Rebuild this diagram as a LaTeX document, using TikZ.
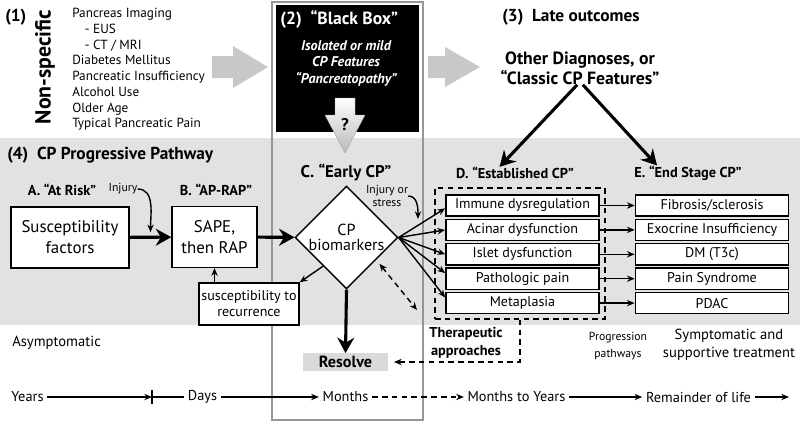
\documentclass[tikz,border=0pt]{standalone}
\usepackage{fontspec}
\setmainfont{PT Sans}
\usetikzlibrary{arrows.meta,positioning,shapes.geometric,calc}
\definecolor{bandgray}{RGB}{226,226,226}
\definecolor{fatgray}{RGB}{200,200,200}
\definecolor{framegray}{RGB}{150,150,150}
\definecolor{resgray}{RGB}{218,218,218}

\begin{document}
\begin{tikzpicture}[x=0.025cm, y=-0.025cm,
  >={Stealth[length=5.5pt, width=4.5pt]},
  cpbox/.style={draw, line width=1pt, fill=white, align=center, inner sep=1pt},
  estbox/.style={cpbox, minimum width=3.83cm, minimum height=0.53cm, font=\fontsize{10}{11}\selectfont},
  bigbox/.style={cpbox, minimum height=1.52cm, font=\fontsize{12}{15}\selectfont},
  hdtxt/.style={font=\bfseries\fontsize{12.3}{14}\selectfont, inner sep=0pt},
  stagetxt/.style={font=\bfseries\fontsize{10.2}{12}\selectfont, inner sep=0pt},
  notetxt/.style={font=\fontsize{10.4}{12.5}\selectfont, align=center, inner sep=0pt},
  smalltxt/.style={font=\fontsize{8.3}{9.3}\selectfont, align=center, inner sep=0pt},
  tltxt/.style={font=\fontsize{10.2}{12}\selectfont, inner sep=2.5pt},
  fatarr/.style={line width=2.2pt, -{Stealth[length=11pt, width=12pt]}},
  thinarr/.style={line width=1pt, ->},
  tlarr/.style={line width=0.9pt, ->},
  dashline/.style={line width=1pt, dash pattern=on 4pt off 3pt}
]
\useasboundingbox (0,0) rectangle (800,423);

% bands and frame
\fill[bandgray] (0,138) rectangle (800,325);
\draw[framegray, line width=0.8pt] (272,2) rectangle (423,420);

% (1) non-specific
\node[hdtxt, anchor=west] (n1) at (5,17) {(1)};
\node[rotate=90, font=\bfseries\fontsize{15.5}{17}\selectfont, inner sep=0pt] (nonspec) at (45,67) {Non-specific};
\node[anchor=west, align=left, font=\fontsize{9.4}{11.2}\selectfont, inner sep=0pt] (list) at (72,69.5)
  {Pancreas Imaging\\\hspace{9pt}- EUS\\\hspace{9pt}- CT / MRI\\Diabetes Mellitus\\Pancreatic Insufficiency\\Alcohol Use\\Older Age\\Typical Pancreatic Pain};
\fill[fatgray] (212,56) -- (233,56) -- (233,46) -- (268,67) -- (233,88) -- (233,78) -- (212,78) -- cycle;

% (2) black box
\node[fill=black, minimum width=3.575cm, minimum height=3.175cm, anchor=north west, inner sep=0pt] (bbox) at (276,5) {};
\node[hdtxt, text=white, anchor=west, font=\bfseries\fontsize{12.5}{14}\selectfont] (bbtitle) at (280,19) {(2)\enspace “Black Box”};
\node[text=white, align=center, inner sep=0pt, font=\bfseries\itshape\fontsize{10}{11.7}\selectfont] (bbtext) at (346,63) {Isolated or mild\\CP Features\\“Pancreatopathy”};
\shade[top color=white, bottom color=gray!55, draw=gray!70, line width=0.3pt]
  (335,98) -- (355,98) -- (355,115) -- (365,115) -- (345,153) -- (325,115) -- (335,115) -- cycle;
\node[font=\bfseries\fontsize{12}{14}\selectfont, inner sep=0pt] (qmark) at (345,125) {?};

% (3) late outcomes
\fill[fatgray] (428,56) -- (445,56) -- (445,47) -- (480,67) -- (445,87) -- (445,78) -- (428,78) -- cycle;
\node[hdtxt, anchor=west] (n3) at (502,17) {(3)\enspace Late outcomes};
\node[hdtxt, align=center, font=\bfseries\fontsize{12.6}{14.2}\selectfont] (late) at (580,68) {Other Diagnoses, or\\“Classic CP Features”};

% (4) progressive pathway
\node[hdtxt, anchor=west] (n4) at (7,155) {(4)\enspace CP Progressive Pathway};
\node[stagetxt] (alab) at (62,190) {A. “At Risk”};
\node[smalltxt] (inj) at (123,189) {Injury};
\node[stagetxt] (blab) at (216,190) {B. “AP-RAP”};
\node[stagetxt, font=\bfseries\fontsize{12}{14}\selectfont] (clab) at (346,172) {C. “Early CP”};
\node[smalltxt] (ios) at (387,196) {Injury or\\stress};
\node[stagetxt] (dlab) at (515,173) {D. “Established CP”};
\node[stagetxt] (elab) at (688,173) {E. “End Stage CP”};

\node[bigbox, minimum width=2.95cm] (sA) at (70,237.5) {Susceptibility\\factors};
\node[bigbox, minimum width=2.125cm] (sB) at (214.5,237) {SAPE,\\then RAP};
\node[cpbox, minimum width=2.5cm, minimum height=1.05cm, font=\fontsize{10}{11.3}\selectfont] (sus) at (249,304) {susceptibility to\\recurrence};
\node[draw, line width=1pt, fill=white, diamond, aspect=1, minimum width=2.35cm, minimum height=2.32cm, inner sep=0pt, align=center, font=\fontsize{11.4}{11}\selectfont] (dia) at (346.5,237.5) {CP\\biomarkers};
\node[fill=resgray, minimum width=2.125cm, minimum height=0.43cm, inner sep=0pt, font=\bfseries\fontsize{11.5}{13}\selectfont] (res) at (345.5,362) {Resolve};

\node[draw, dashline, minimum width=4.25cm, minimum height=3.275cm] (est) at (520,253.5) {};
\node[estbox] (l1) at (522.5,205.5) {Immune dysregulation};
\node[estbox] (l2) at (522.5,229.9) {Acinar dysfunction};
\node[estbox] (l3) at (522.5,254.3) {Islet dysfunction};
\node[estbox] (l4) at (522.5,278.7) {Pathologic pain};
\node[estbox] (l5) at (522.5,303.1) {Metaplasia};
\node[estbox] (r1) at (712,205.5) {Fibrosis/sclerosis};
\node[estbox] (r2) at (712,229.9) {Exocrine Insufficiency};
\node[estbox] (r3) at (712,254.3) {DM (T3c)};
\node[estbox] (r4) at (712,278.7) {Pain Syndrome};
\node[estbox] (r5) at (712,303.1) {PDAC};
\coordinate (iostip) at (418,219);
\coordinate (thx) at (417,310);

% bottom notes
\node[notetxt, anchor=west] (asym) at (12,343) {Asymptomatic};
\node[notetxt, font=\bfseries\fontsize{10.2}{12.5}\selectfont] (thera) at (466,343) {Therapeutic\\approaches};
\node[smalltxt, font=\fontsize{8.3}{11.5}\selectfont] (prog) at (618,346) {Progression\\pathways};
\node[notetxt] (symp) at (729,345) {Symptomatic and\\supportive treatment};

% connectors
\draw[fatarr] (sA) -- (sB);
\draw[fatarr] (sB) -- (dia);
\draw[fatarr] (dia.south) -- (res.north);
\draw[fatarr] ([xshift=-2pt]late.south) -- ([xshift=-11pt]dlab.north);
\draw[fatarr] ([xshift=2pt]late.south) -- ([xshift=-22pt]elab.north);
\draw[thinarr] (inj.east) to[out=0, in=90] ($(sA.east)!0.5!(sB.west)+(0,-5)$);
\draw[thinarr] (ios.east) to[out=0, in=90] (iostip);
\draw[thinarr] (sus.north -| sB.south) -- (sB.south);
\draw[thinarr] ($(dia.south)!0.45!(dia.west)$) -- (sus.north east);
\draw[thinarr] (dia.east) -- ([yshift=-2pt]l1.west);
\draw[thinarr] (dia.east) -- (l2.west);
\draw[thinarr] (dia.east) -- (l3.west);
\draw[thinarr] (dia.east) -- ([yshift=4pt]l4.west);
\draw[thinarr] (dia.east) -- ([yshift=4pt]l5.west);
\draw[thinarr] (l1) -- (r1);
\draw[thinarr] (l2) -- (r2);
\draw[thinarr] (l3) -- (r3);
\draw[thinarr] (l4) -- (r4);
\draw[thinarr] (l5) -- (r5);
\draw[thinarr, dashline, <->] ([xshift=3pt,yshift=-2pt]$(dia.east)!0.45!(dia.south)$) -- (thx);
\draw[thinarr, dashline] (est.south) |- ([xshift=4pt]res.east);

% timeline
\node[tltxt] (tyears) at (27.5,397) {Years};
\coordinate (tick) at (152,397);
\node[tltxt] (tdays) at (202.5,397) {Days};
\node[tltxt] (tmonths) at (345.5,397) {Months};
\node[tltxt] (tmy) at (516.5,397) {Months to Years};
\node[tltxt] (trem) at (698.5,397) {Remainder of life};
\coordinate (tend) at (789,397);
\draw[tlarr] (tyears) -- (tick);
\draw[line width=0.9pt] (tick) ++(0,-7) -- ++(0,14);
\draw[line width=0.9pt] (tick) -- (tdays);
\draw[tlarr] (tdays) -- (tmonths);
\draw[tlarr, dash pattern=on 4pt off 3pt] (tmonths) -- (tmy);
\draw[tlarr] (tmy) -- (trem);
\draw[tlarr] (trem) -- (tend);
\end{tikzpicture}
\end{document}
